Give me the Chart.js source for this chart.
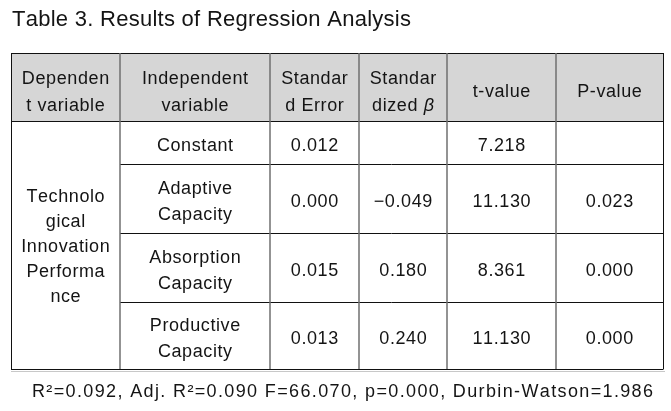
<!DOCTYPE html>
<html>
<head>
<meta charset="utf-8">
<script src="https://cdn.jsdelivr.net/npm/chart.js@4"></script>
<style>
  html, body { margin: 0; padding: 0; background: #ffffff; }
  #wrap { width: 671px; height: 411px; }
</style>
</head>
<body>
<div id="wrap"><canvas id="c" width="671" height="411"></canvas></div>
<script>
// ---------- DATA ----------
const titleText = "Table 3. Results of Regression Analysis";
const columnHeaders = [
  ["Dependen", "t variable"],
  ["Independent", "variable"],
  ["Standar", "d Error"],
  ["Standar", "dized β"],
  ["t-value"],
  ["P-value"]
];
const dependentVariable = ["Technolo", "gical", "Innovation", "Performa", "nce"];
const independentVariables = [
  ["Constant"],
  ["Adaptive", "Capacity"],
  ["Absorption", "Capacity"],
  ["Productive", "Capacity"]
];
const standardError = [0.012, 0.000, 0.015, 0.013];
const standardizedBeta = [null, -0.049, 0.180, 0.240];
const tValues = [7.218, 11.130, 8.361, 11.130];
const pValues = [null, 0.023, 0.000, 0.000];
const footnoteText = "R²=0.092, Adj. R²=0.090 F=66.070, p=0.000, Durbin-Watson=1.986";

// ---------- LAYOUT (table grid in scale units) ----------
const colEdges = [0, 109, 259, 348, 436, 545, 652];
const rowEdges = [0, 68, 111, 180, 249, 316];

const FONT = "'Liberation Sans', Arial, sans-serif";
const TEXT_COLOR = "#141414";

function fmt(v) {
  if (v === null || v === undefined) return "";
  return v.toFixed(3).replace("-", "−");
}

function charWidths(ctx, text) {
  return Array.from(text).map(ch => ctx.measureText(ch).width);
}

// draw text char by char with spacing; align: 'left' | 'center' | 'right'
function drawSpaced(ctx, text, x, y, align, spacing, italicChars) {
  const chars = Array.from(text);
  const baseFont = ctx.font;
  const widths = chars.map(ch => {
    if (italicChars && italicChars.includes(ch)) {
      ctx.font = "italic " + baseFont;
      const w = ctx.measureText(ch).width;
      ctx.font = baseFont;
      return w;
    }
    return ctx.measureText(ch).width;
  });
  const total = widths.reduce((a, b) => a + b, 0) + spacing * (chars.length - 1);
  let cx = align === 'center' ? x - total / 2 : (align === 'right' ? x - total : x);
  ctx.textAlign = 'left';
  chars.forEach((ch, i) => {
    if (italicChars && italicChars.includes(ch)) {
      ctx.font = "italic " + baseFont;
      ctx.fillText(ch, cx, y);
      ctx.font = baseFont;
    } else {
      ctx.fillText(ch, cx, y);
    }
    cx += widths[i] + spacing;
  });
}

function fitSpacing(ctx, text, target) {
  const w = charWidths(ctx, text);
  const sum = w.reduce((a, b) => a + b, 0);
  return (target - sum) / (Array.from(text).length - 1);
}

const tablePlugin = {
  id: 'tablePlugin',
  afterDraw(chart) {
    const ctx = chart.ctx;
    const xs = chart.scales.x, ys = chart.scales.y;
    const X = v => xs.getPixelForValue(v);
    const Y = v => ys.getPixelForValue(v);
    const crisp = p => Math.round(p) + 0.5;
    ctx.save();

    // header background
    ctx.fillStyle = "#d6d6d6";
    ctx.fillRect(X(colEdges[0]), Y(rowEdges[0]), X(colEdges[6]) - X(colEdges[0]), Y(rowEdges[1]) - Y(rowEdges[0]));

    // shadow line under table
    ctx.strokeStyle = "#c8c8c8";
    ctx.lineWidth = 1;
    ctx.beginPath();
    ctx.moveTo(X(colEdges[0]), crisp(Y(rowEdges[5]) + 2));
    ctx.lineTo(X(colEdges[6]) + 2, crisp(Y(rowEdges[5]) + 2));
    ctx.stroke();

    // horizontal lines (black)
    ctx.strokeStyle = "#111111";
    ctx.lineWidth = 1;
    rowEdges.forEach((r, i) => {
      const x0 = (i >= 2 && i <= 4) ? X(colEdges[1]) : X(colEdges[0]);
      ctx.beginPath();
      ctx.moveTo(x0, crisp(Y(r)));
      ctx.lineTo(X(colEdges[6]), crisp(Y(r)));
      ctx.stroke();
    });
    // outer vertical lines
    [colEdges[0], colEdges[6]].forEach(c => {
      ctx.beginPath();
      ctx.moveTo(crisp(X(c)), Y(rowEdges[0]));
      ctx.lineTo(crisp(X(c)), Y(rowEdges[5]) + 0.5);
      ctx.stroke();
    });
    // inner vertical lines (gray)
    ctx.strokeStyle = "#6f6f6f";
    ctx.lineWidth = 1.5;
    colEdges.slice(1, 6).forEach(c => {
      ctx.beginPath();
      ctx.moveTo(Math.round(X(c)), Y(rowEdges[0]));
      ctx.lineTo(Math.round(X(c)), Y(rowEdges[5]));
      ctx.stroke();
    });

    // texts
    ctx.fillStyle = TEXT_COLOR;
    ctx.textBaseline = 'alphabetic';
    ctx.font = "18px " + FONT;
    const SP = 0.6;
    const cellCenterX = c => (X(colEdges[c]) + X(colEdges[c + 1])) / 2;
    const drawLines = (lines, c, r0, r1, lh, k) => {
      const cy = (Y(rowEdges[r0]) + Y(rowEdges[r1])) / 2;
      lines.forEach((ln, i) => {
        const y = cy + (i - (lines.length - 1) / 2) * lh + k;
        drawSpaced(ctx, ln, cellCenterX(c), y, 'center', SP, ["β"]);
      });
    };
    // header
    columnHeaders.forEach((lines, c) => drawLines(lines, c, 0, 1, 27, 10));
    // dependent variable merged cell
    drawLines(dependentVariable, 0, 1, 5, 25, 7);
    // body rows
    independentVariables.forEach((lines, r) => {
      drawLines(lines, 1, r + 1, r + 2, 26, 8);
      drawLines([fmt(standardError[r])], 2, r + 1, r + 2, 26, 8);
      drawLines([fmt(standardizedBeta[r])], 3, r + 1, r + 2, 26, 8);
      drawLines([fmt(tValues[r])], 4, r + 1, r + 2, 26, 8);
      drawLines([fmt(pValues[r])], 5, r + 1, r + 2, 26, 8);
    });

    // title
    ctx.font = "22px " + FONT;
    ctx.fillStyle = "#141414";
    drawSpaced(ctx, titleText, 12, 26, 'left', fitSpacing(ctx, titleText, 399));

    // footnote
    ctx.font = "18px " + FONT;
    drawSpaced(ctx, footnoteText, 653, 397, 'right', fitSpacing(ctx, footnoteText, 621));

    ctx.restore();
  }
};

new Chart(document.getElementById('c'), {
  type: 'scatter',
  data: { datasets: [{ data: [], showLine: false }] },
  options: {
    responsive: false,
    animation: false,
    devicePixelRatio: 1,
    layout: { padding: { left: 11, top: 53, right: 8, bottom: 42 } },
    scales: {
      x: { type: 'linear', min: colEdges[0], max: colEdges[colEdges.length - 1], display: false },
      y: { type: 'linear', min: rowEdges[0], max: rowEdges[rowEdges.length - 1], reverse: true, display: false }
    },
    plugins: { legend: { display: false }, tooltip: { enabled: false }, title: { display: false } }
  },
  plugins: [tablePlugin]
});
</script>
</body>
</html>
